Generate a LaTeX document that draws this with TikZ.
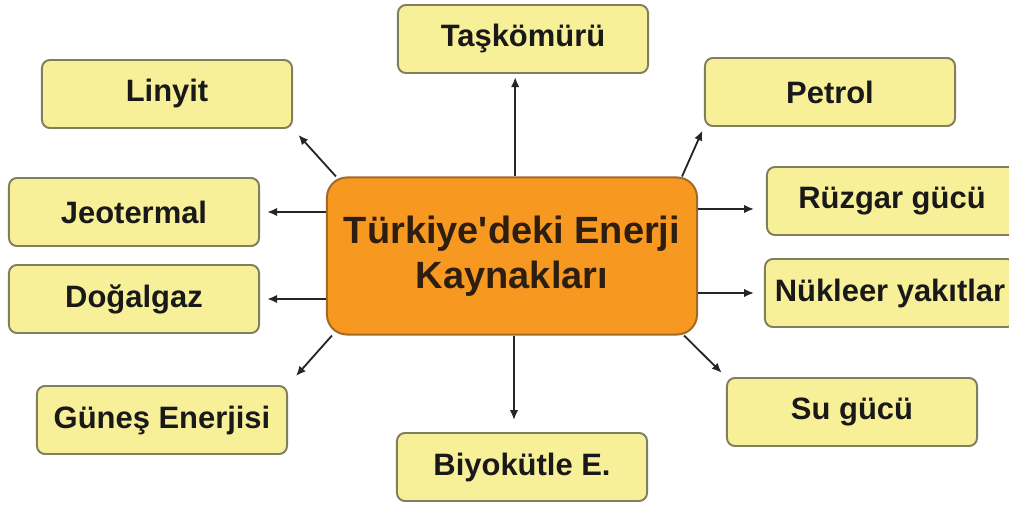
\documentclass[tikz,border=0pt]{standalone}
\usepackage{fontspec}
\setmainfont{Liberation Sans}
\usetikzlibrary{arrows.meta}

\definecolor{kutufill}{RGB}{247,240,152}
\definecolor{kutuline}{RGB}{128,126,92}
\definecolor{merkezfill}{RGB}{247,152,32}
\definecolor{merkezline}{RGB}{160,105,40}

\begin{document}
\begin{tikzpicture}[x=0.025cm,y=-0.025cm,
  kutu/.style={draw=kutuline,fill=kutufill,line width=1.4pt,rounded corners=0.2cm,
    minimum width=6.25cm,minimum height=1.7cm,inner sep=0pt,
    font=\fontsize{22}{26}\selectfont\bfseries,text=black!90},
  merkez/.style={draw=merkezline,fill=merkezfill,line width=1.4pt,rounded corners=0.5cm,
    minimum width=9.25cm,minimum height=3.925cm,align=center,inner sep=0pt,
    font=\fontsize{27}{32}\selectfont\bfseries,text={rgb,255:red,45;green,30;blue,15}},
  ok/.style={-{Latex[length=7pt,width=6pt]},line width=1.3pt,black!85}]
  \useasboundingbox (0,0) rectangle (1009,506);
  \clip (0,0) rectangle (1009,506);

  \node[merkez] (core) at (512,256) {T\"urkiye\textquotesingle deki Enerji\\Kaynaklar\i};

  \node[kutu] (tas) at (523,39) {Ta\c{s}k\"om\"ur\"u};
  \node[kutu] (lin) at (167,94) {Linyit};
  \node[kutu] (pet) at (830,92) {Petrol};
  \node[kutu] (jeo) at (134,212) {Jeotermal};
  \node[kutu] (ruz) at (892,201) {R\"uzgar g\"uc\"u};
  \node[kutu] (dog) at (134,299) {Do\u{g}algaz};
  \node[kutu] (nuk) at (890,293) {N\"ukleer yak\i tlar};
  \node[kutu] (gun) at (162,420) {G\"une\c{s} Enerjisi};
  \node[kutu] (su) at (852,412) {Su g\"uc\"u};
  \node[kutu] (bio) at (522,467) {Biyok\"utle E.};

  % oklar
  \draw[ok,shorten >=0.08cm] ([xshift=0.08cm]core.north) -- ([xshift=0.08cm]core.north |- tas.south);
  \draw[ok,shorten >=0.3cm] ([xshift=0.05cm]core.south |- core.south) -- ([xshift=0.05cm]core.south |- bio.north);
  \draw[ok,shorten >=0.18cm] (core.west |- jeo.east) -- (jeo.east);
  \draw[ok,shorten >=0.18cm] (core.west |- dog.east) -- (dog.east);
  \draw[ok,shorten >=0.3cm] ([yshift=-0.2cm]core.east |- ruz.west) -- ([yshift=-0.2cm]ruz.west);
  \draw[ok,shorten >=0.25cm] (core.east |- nuk.west) -- (nuk.west);
  \draw[ok,shorten >=0.2cm] ([xshift=0.25cm]core.north west) -- (lin.south east);
  \draw[ok,shorten >=0.1cm] ([xshift=-0.4cm]core.north east) -- (pet.south west);
  \draw[ok,shorten >=0.3cm] ([xshift=0.15cm]core.south west) -- (gun.north east);
  \draw[ok,shorten >=0.15cm] ([xshift=-0.35cm]core.south east) -- (su.north west);
\end{tikzpicture}
\end{document}
